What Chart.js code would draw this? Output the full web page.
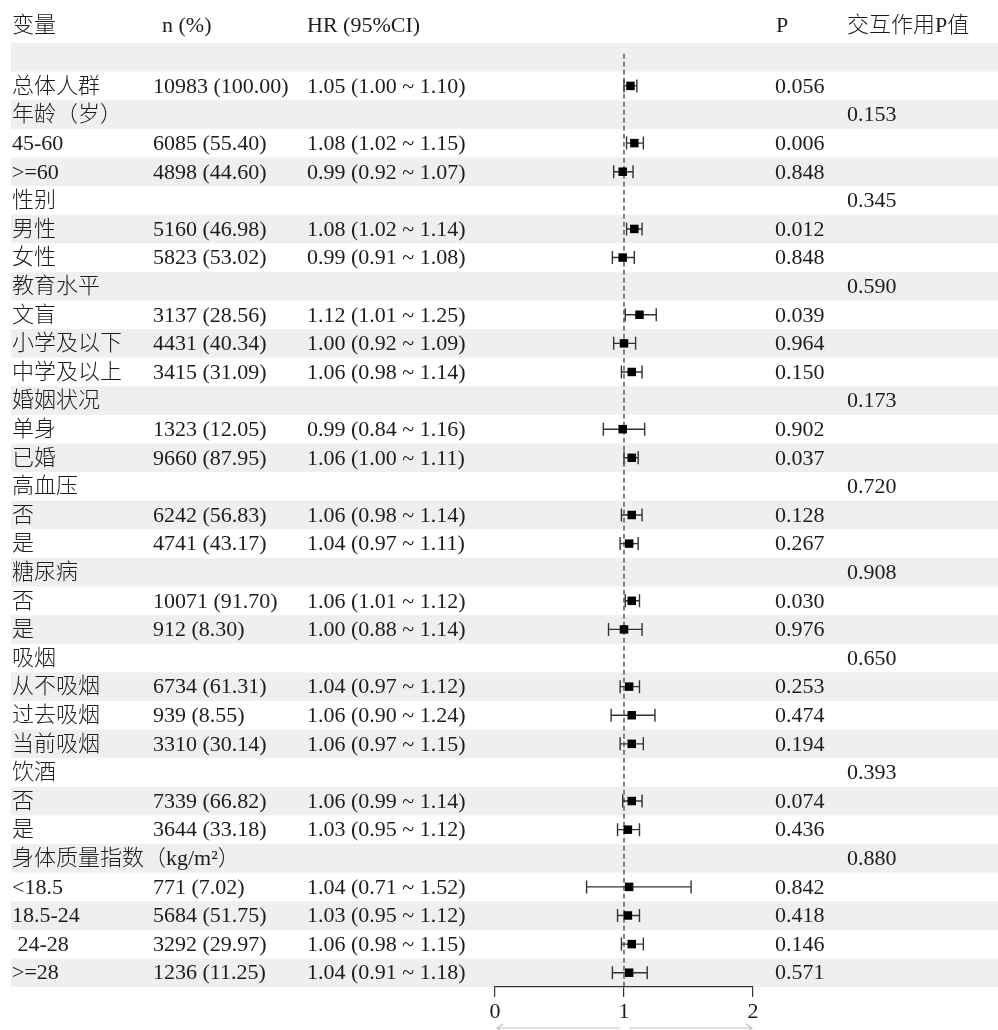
<!DOCTYPE html>
<html>
<head>
<meta charset="utf-8">
<script src="https://cdn.jsdelivr.net/npm/chart.js@4"></script>
<style>
  html, body { margin: 0; padding: 0; background: #fff; }
  canvas { display: block; }
</style>
</head>
<body>
<canvas id="forest" width="998" height="1030"></canvas>
<script>
// 亚组分析森林图
const headers = ['变量', 'n (%)', 'HR (95%CI)', 'P', '交互作用P值'];

const rowLabels = ['', '总体人群', '年龄（岁）', '45-60', '>=60', '性别', '男性', '女性',
  '教育水平', '文盲', '小学及以下', '中学及以上', '婚姻状况', '单身', '已婚',
  '高血压', '否', '是', '糖尿病', '否', '是', '吸烟', '从不吸烟', '过去吸烟', '当前吸烟',
  '饮酒', '否', '是', '身体质量指数（kg/m²）', '<18.5', '18.5-24', ' 24-28', '>=28'];

const nCount = [null, 10983, null, 6085, 4898, null, 5160, 5823, null, 3137, 4431, 3415,
  null, 1323, 9660, null, 6242, 4741, null, 10071, 912, null, 6734, 939, 3310,
  null, 7339, 3644, null, 771, 5684, 3292, 1236];
const nPct = [null, 100.00, null, 55.40, 44.60, null, 46.98, 53.02, null, 28.56, 40.34, 31.09,
  null, 12.05, 87.95, null, 56.83, 43.17, null, 91.70, 8.30, null, 61.31, 8.55, 30.14,
  null, 66.82, 33.18, null, 7.02, 51.75, 29.97, 11.25];

const hr = [null, 1.05, null, 1.08, 0.99, null, 1.08, 0.99, null, 1.12, 1.00, 1.06,
  null, 0.99, 1.06, null, 1.06, 1.04, null, 1.06, 1.00, null, 1.04, 1.06, 1.06,
  null, 1.06, 1.03, null, 1.04, 1.03, 1.06, 1.04];
const lower = [null, 1.00, null, 1.02, 0.92, null, 1.02, 0.91, null, 1.01, 0.92, 0.98,
  null, 0.84, 1.00, null, 0.98, 0.97, null, 1.01, 0.88, null, 0.97, 0.90, 0.97,
  null, 0.99, 0.95, null, 0.71, 0.95, 0.98, 0.91];
const upper = [null, 1.10, null, 1.15, 1.07, null, 1.14, 1.08, null, 1.25, 1.09, 1.14,
  null, 1.16, 1.11, null, 1.14, 1.11, null, 1.12, 1.14, null, 1.12, 1.24, 1.15,
  null, 1.14, 1.12, null, 1.52, 1.12, 1.15, 1.18];

const pValue = [null, 0.056, null, 0.006, 0.848, null, 0.012, 0.848, null, 0.039, 0.964, 0.150,
  null, 0.902, 0.037, null, 0.128, 0.267, null, 0.030, 0.976, null, 0.253, 0.474, 0.194,
  null, 0.074, 0.436, null, 0.842, 0.418, 0.146, 0.571];
const pInteraction = [null, null, 0.153, null, null, 0.345, null, null, 0.590, null, null, null,
  0.173, null, null, 0.720, null, null, 0.908, null, null, 0.650, null, null, null,
  0.393, null, null, 0.880, null, null, null, null];

const xTicks = [0, 1, 2];

const FONT = "300 22px 'Liberation Serif', 'Noto Sans CJK SC', serif";
const TEXT = '#1c1c1c';
const colX = [12, 153, 307, 775, 847];
const headX = [12, 162, 307, 776, 847];

const points = [];
hr.forEach((v, i) => { if (v !== null) points.push({ x: v, y: i }); });

const forestPlugin = {
  id: 'forest',
  beforeDraw(chart) {
    const { ctx, scales: { y } } = chart;
    ctx.save();
    ctx.fillStyle = '#fff';
    ctx.fillRect(0, 0, chart.width, chart.height);
    ctx.fillStyle = '#eef0ef';
    rowLabels.forEach((_, i) => {
      if (i % 2 !== 0) return;
      const top = y.getPixelForValue(i - 0.5);
      const bot = y.getPixelForValue(i + 0.5);
      ctx.fillRect(11, top, chart.width - 11, bot - top);
    });
    ctx.restore();
  },
  beforeDatasetsDraw(chart) {
    const { ctx, scales: { x, y } } = chart;
    ctx.save();
    ctx.strokeStyle = '#333';
    ctx.lineWidth = 1.4;
    hr.forEach((v, i) => {
      if (v === null) return;
      const yy = y.getPixelForValue(i);
      const x0 = x.getPixelForValue(lower[i]);
      const x1 = x.getPixelForValue(upper[i]);
      ctx.beginPath();
      ctx.moveTo(x0, yy); ctx.lineTo(x1, yy);
      ctx.moveTo(x0, yy - 6.5); ctx.lineTo(x0, yy + 6.5);
      ctx.moveTo(x1, yy - 6.5); ctx.lineTo(x1, yy + 6.5);
      ctx.stroke();
    });
    ctx.restore();
  },
  afterDraw(chart) {
    const { ctx, scales: { x, y } } = chart;
    ctx.save();
    ctx.font = FONT;
    ctx.fillStyle = TEXT;
    ctx.textBaseline = 'middle';
    ctx.textAlign = 'left';
    headers.forEach((h, c) => ctx.fillText(h, headX[c], 26));

    rowLabels.forEach((label, i) => {
      const yy = y.getPixelForValue(i) + 1;
      if (label) ctx.fillText(label, colX[0], yy);
      if (nCount[i] !== null) {
        ctx.fillText(nCount[i] + ' (' + nPct[i].toFixed(2) + ')', colX[1], yy);
      }
      if (hr[i] !== null) {
        ctx.fillText(hr[i].toFixed(2) + ' (' + lower[i].toFixed(2) + ' ~ ' + upper[i].toFixed(2) + ')', colX[2], yy);
      }
      if (pValue[i] !== null) ctx.fillText(pValue[i].toFixed(3), colX[3], yy);
      if (pInteraction[i] !== null) ctx.fillText(pInteraction[i].toFixed(3), colX[4], yy);
    });

    // 底部方向箭头
    const ay = 1028;
    const a0 = x.getPixelForValue(0), a1 = x.getPixelForValue(1), a2 = x.getPixelForValue(2);
    ctx.strokeStyle = '#c4c4c4';
    ctx.lineWidth = 1.2;
    ctx.beginPath();
    ctx.moveTo(a0 + 2, ay); ctx.lineTo(a1 - 4, ay);
    ctx.moveTo(a0 + 8, ay - 4); ctx.lineTo(a0 + 2, ay); ctx.lineTo(a0 + 8, ay + 4);
    ctx.moveTo(a1 + 5, ay); ctx.lineTo(a2 - 1, ay);
    ctx.moveTo(a2 - 7, ay - 4); ctx.lineTo(a2 - 1, ay); ctx.lineTo(a2 - 7, ay + 4);
    ctx.stroke();
    ctx.restore();
  }
};

new Chart(document.getElementById('forest').getContext('2d'), {
  type: 'scatter',
  data: {
    datasets: [
      {
        label: 'HR',
        data: points,
        pointStyle: 'rect',
        pointRadius: 6,
        pointHoverRadius: 6,
        backgroundColor: '#000',
        borderWidth: 0,
        order: 1
      },
      {
        label: 'HR = 1',
        type: 'line',
        data: [{ x: 1, y: -0.12 }, { x: 1, y: 32.5 }],
        borderColor: '#444',
        borderWidth: 1.3,
        borderDash: [5, 3],
        pointRadius: 0,
        order: 2
      }
    ]
  },
  options: {
    responsive: false,
    animation: false,
    events: [],
    layout: { padding: { left: 495, right: 245, top: 43, bottom: 0 } },
    plugins: { legend: { display: false }, tooltip: { enabled: false } },
    scales: {
      x: {
        type: 'linear',
        position: 'bottom',
        min: 0,
        max: 2,
        afterFit: s => { s.height = 43; },
        afterBuildTicks: s => { s.ticks = xTicks.map(v => ({ value: v })); },
        ticks: {
          font: { family: "'Liberation Serif'", size: 22 },
          color: TEXT,
          padding: 2,
          maxRotation: 0
        },
        grid: { drawOnChartArea: false, tickLength: 10, color: '#333', lineWidth: 1.2 },
        border: { color: '#333', width: 1.2 }
      },
      y: {
        type: 'linear',
        min: -0.5,
        max: 32.5,
        reverse: true,
        display: false
      }
    }
  },
  plugins: [forestPlugin]
});
</script>
</body>
</html>
